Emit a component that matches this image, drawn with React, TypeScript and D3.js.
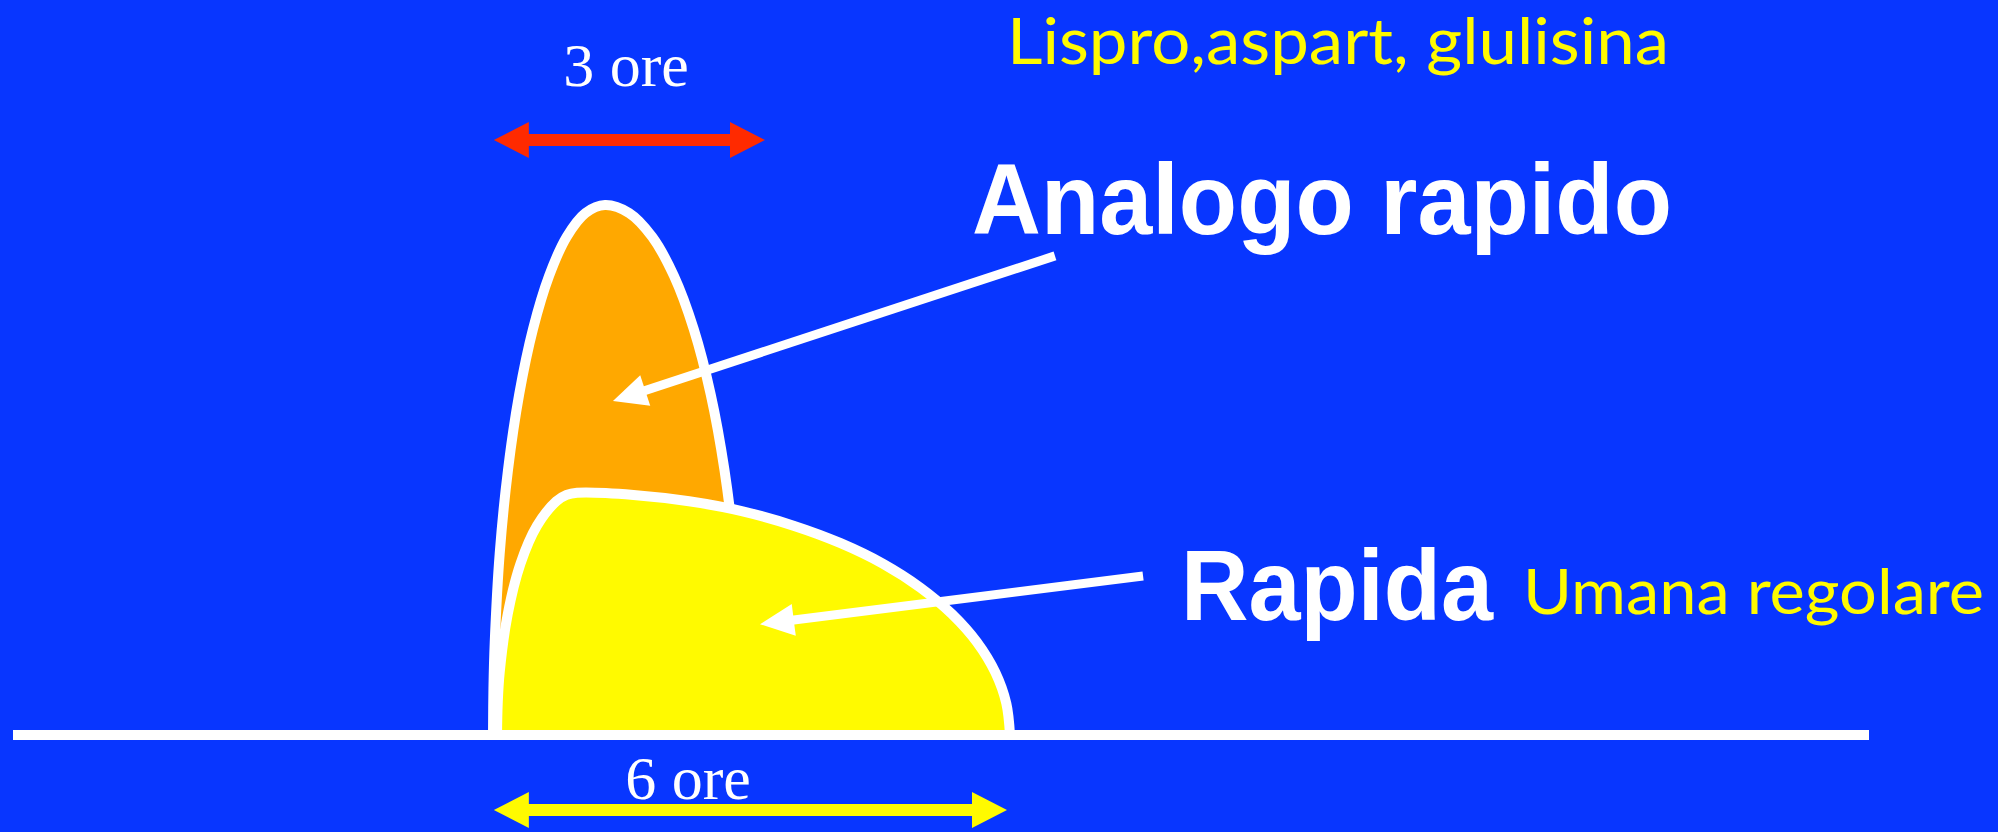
import React, {Component} from 'react';
import * as d3 from "d3";

// fast analogue (lispro, aspart, glulisina): hours after injection / relative activity
const analogHours = [0, 0.005, 0.020, 0.078, 0.175, 0.306, 0.467, 0.654, 0.860, 1.080, 1.307,
    1.588, 1.858, 2.113, 2.343, 2.541, 2.702, 2.821, 2.894, 2.912, 2.918];
const analogActivity = [0, 8.7, 17.4, 34.2, 50.0, 64.3, 76.6, 86.6, 94.0, 98.5, 100,
    98.5, 94.0, 86.6, 76.6, 64.3, 50.0, 34.2, 17.4, 8.7, 0];

// regular human insulin
const regularHours = [0.047, 0.055, 0.078, 0.172, 0.320, 0.514, 0.739, 0.859, 0.981,
    1.640, 2.289, 2.915, 3.508, 4.058, 4.555, 4.990, 5.359, 5.650, 5.864, 5.992, 6.035];
const regularActivity = [0, 5.96, 11.8, 22.8, 32.3, 39.5, 44.1, 45.3, 45.7,
    45.3, 44.1, 42.2, 39.5, 36.2, 32.3, 27.8, 22.8, 17.5, 11.8, 5.96, 0];

// duration arrows
const durationLabels = ["3 ore", "6 ore"];
const durationStart = [0.01, 0.01];
const durationEnd = [3.175, 6];

// pointer arrows [hours, activity] from label to curve
const pointerNames = ["Analogo rapido", "Rapida"];
const pointerFrom = [[6.56, 90.4], [7.588, 30]];
const pointerTo = [[1.40, 63], [3.117, 20.9]];

const BLUE = "#0836ff";
const ORANGE = "#ffa800";
const YELLOW = "#fffa00";
const RED = "#ff2a00";

class Chart extends Component {
    ref = React.createRef();

    componentDidMount() {
        this.drawChart();
    }

    drawChart() {
        const width = 1998, height = 832;

        const svg = d3.select(this.ref.current);
        svg.selectAll("*").remove();
        svg.attr("width", width).attr("height", height);

        svg.append("rect")
            .attr("width", width)
            .attr("height", height)
            .attr("fill", BLUE);

        const x = d3.scaleLinear().domain([0, 6]).range([493, 1007]);
        const y = d3.scaleLinear().domain([0, 100]).range([735, 205]);

        const area = d3.area()
            .x(d => x(d[0]))
            .y0(y(0))
            .y1(d => y(d[1]))
            .curve(d3.curveCatmullRom.alpha(0.5));

        const analog = analogHours.map((h, i) => [h, analogActivity[i]]);
        const regular = regularHours.map((h, i) => [h, regularActivity[i]]);

        svg.append("path")
            .attr("d", area(analog))
            .attr("fill", ORANGE)
            .attr("stroke", "white")
            .attr("stroke-width", 10)
            .attr("stroke-linejoin", "round");

        svg.append("path")
            .attr("d", area(regular))
            .attr("fill", YELLOW)
            .attr("stroke", "white")
            .attr("stroke-width", 10)
            .attr("stroke-linejoin", "round");

        //time axis
        svg.append("line")
            .attr("x1", 13)
            .attr("x2", 1869)
            .attr("y1", y(0))
            .attr("y2", y(0))
            .attr("stroke", "white")
            .attr("stroke-width", 10);

        //double headed duration arrows
        const doubleArrow = (x0, x1, yc) => {
            const t = 6, hl = 35, hw = 18;
            return [[x0, yc], [x0 + hl, yc - hw], [x0 + hl, yc - t], [x1 - hl, yc - t], [x1 - hl, yc - hw],
                [x1, yc], [x1 - hl, yc + hw], [x1 - hl, yc + t], [x0 + hl, yc + t], [x0 + hl, yc + hw]];
        };
        const arrowY = [140, 810];
        const arrowColor = [RED, YELLOW];
        const labelY = [86, 799];

        durationLabels.forEach((label, i) => {
            const x0 = x(durationStart[i]), x1 = x(durationEnd[i]);
            svg.append("polygon")
                .attr("points", doubleArrow(x0, x1, arrowY[i]).join(" "))
                .attr("fill", arrowColor[i]);
            svg.append("text")
                .attr("x", i === 0 ? 626 : 688)
                .attr("y", labelY[i])
                .attr("text-anchor", "middle")
                .style("font-family", '"Liberation Serif", "Times New Roman", serif')
                .style("font-size", "62px")
                .attr("fill", "white")
                .text(label);
        });

        //white pointers from the labels
        pointerNames.forEach((name, i) => {
            const sx = x(pointerFrom[i][0]), sy = y(pointerFrom[i][1]);
            const tx = x(pointerTo[i][0]), ty = y(pointerTo[i][1]);
            const a = Math.atan2(ty - sy, tx - sx);
            const hl = 34, hw = 16;
            const bx = tx - hl * Math.cos(a), by = ty - hl * Math.sin(a);
            svg.append("line")
                .attr("x1", sx).attr("y1", sy)
                .attr("x2", bx + 4 * Math.cos(a)).attr("y2", by + 4 * Math.sin(a))
                .attr("stroke", "white")
                .attr("stroke-width", 9);
            svg.append("polygon")
                .attr("points", [[tx, ty],
                    [bx + hw * Math.sin(a), by - hw * Math.cos(a)],
                    [bx - hw * Math.sin(a), by + hw * Math.cos(a)]].join(" "))
                .attr("fill", "white");
        });

        const bold = '"Liberation Sans", Arial, sans-serif';
        const comic = '"Comic Sans MS", Lato, "Open Sans", sans-serif';

        svg.append("text")
            .attr("x", 972).attr("y", 234)
            .attr("textLength", 700).attr("lengthAdjust", "spacingAndGlyphs")
            .style("font-family", bold).style("font-weight", "bold").style("font-size", "100px")
            .attr("fill", "white")
            .text(pointerNames[0]);

        svg.append("text")
            .attr("x", 1181).attr("y", 620)
            .attr("textLength", 312).attr("lengthAdjust", "spacingAndGlyphs")
            .style("font-family", bold).style("font-weight", "bold").style("font-size", "100px")
            .attr("fill", "white")
            .text(pointerNames[1]);

        svg.append("text")
            .attr("x", 1007).attr("y", 64)
            .attr("textLength", 662).attr("lengthAdjust", "spacingAndGlyphs")
            .style("font-family", comic).style("font-size", "64px")
            .attr("fill", YELLOW)
            .text("Lispro,aspart, glulisina");

        svg.append("text")
            .attr("x", 1523).attr("y", 614)
            .attr("textLength", 461).attr("lengthAdjust", "spacingAndGlyphs")
            .style("font-family", comic).style("font-size", "62px")
            .attr("fill", YELLOW)
            .text("Umana regolare");
    }

    render() {
        return <svg ref={this.ref} style={{position: "absolute", left: 0, top: 0, display: "block"}}></svg>
    }
}

export default function App() {
    return <Chart/>;
}
